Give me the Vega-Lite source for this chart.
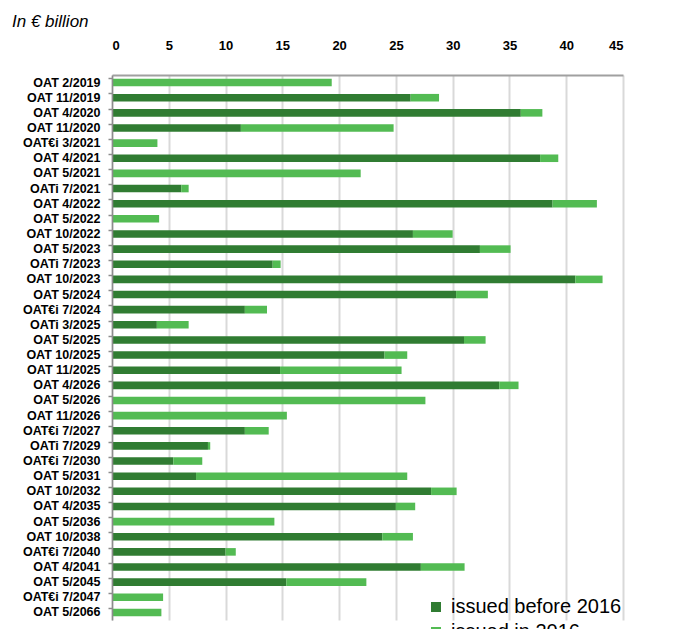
{
  "$schema": "https://vega.github.io/schema/vega-lite/v6.json",
  "autosize": "none",
  "width": 511,
  "height": 545,
  "padding": {"left": 112, "top": 75, "right": 54, "bottom": 9},
  "background": "white",
  "title": {
    "text": "In € billion",
    "anchor": "start",
    "frame": "group",
    "font": "Liberation Sans",
    "fontSize": 17,
    "fontStyle": "italic",
    "fontWeight": "normal",
    "color": "#000000",
    "dx": -100,
    "offset": 8
  },
  "data": {
    "values": [
      {"bond": "OAT 2/2019", "issued before 2016": 0, "issued in 2016": 19.35},
      {"bond": "OAT 11/2019", "issued before 2016": 26.3, "issued in 2016": 2.5},
      {"bond": "OAT 4/2020", "issued before 2016": 36.0, "issued in 2016": 1.9},
      {"bond": "OAT 11/2020", "issued before 2016": 11.35, "issued in 2016": 13.45},
      {"bond": "OAT€i 3/2021", "issued before 2016": 0, "issued in 2016": 4.0},
      {"bond": "OAT 4/2021", "issued before 2016": 37.7, "issued in 2016": 1.6},
      {"bond": "OAT 5/2021", "issued before 2016": 0, "issued in 2016": 21.9},
      {"bond": "OATi 7/2021", "issued before 2016": 6.1, "issued in 2016": 0.65},
      {"bond": "OAT 4/2022", "issued before 2016": 38.8, "issued in 2016": 3.9},
      {"bond": "OAT 5/2022", "issued before 2016": 0, "issued in 2016": 4.15},
      {"bond": "OAT 10/2022", "issued before 2016": 26.5, "issued in 2016": 3.5},
      {"bond": "OAT 5/2023", "issued before 2016": 32.4, "issued in 2016": 2.7},
      {"bond": "OATi 7/2023", "issued before 2016": 14.15, "issued in 2016": 0.7},
      {"bond": "OAT 10/2023", "issued before 2016": 40.8, "issued in 2016": 2.4},
      {"bond": "OAT 5/2024", "issued before 2016": 30.3, "issued in 2016": 2.8},
      {"bond": "OAT€i 7/2024", "issued before 2016": 11.7, "issued in 2016": 1.95},
      {"bond": "OATi 3/2025", "issued before 2016": 3.95, "issued in 2016": 2.8},
      {"bond": "OAT 5/2025", "issued before 2016": 31.0, "issued in 2016": 1.9},
      {"bond": "OAT 10/2025", "issued before 2016": 24.0, "issued in 2016": 2.0},
      {"bond": "OAT 11/2025", "issued before 2016": 14.8, "issued in 2016": 10.7},
      {"bond": "OAT 4/2026", "issued before 2016": 34.1, "issued in 2016": 1.7},
      {"bond": "OAT 5/2026", "issued before 2016": 0, "issued in 2016": 27.6},
      {"bond": "OAT 11/2026", "issued before 2016": 0, "issued in 2016": 15.4},
      {"bond": "OAT€i 7/2027", "issued before 2016": 11.7, "issued in 2016": 2.1},
      {"bond": "OATi 7/2029", "issued before 2016": 8.45, "issued in 2016": 0.2},
      {"bond": "OAT€i 7/2030", "issued before 2016": 5.4, "issued in 2016": 2.55},
      {"bond": "OAT 5/2031", "issued before 2016": 7.4, "issued in 2016": 18.6},
      {"bond": "OAT 10/2032", "issued before 2016": 28.1, "issued in 2016": 2.25},
      {"bond": "OAT 4/2035", "issued before 2016": 25.0, "issued in 2016": 1.7},
      {"bond": "OAT 5/2036", "issued before 2016": 0, "issued in 2016": 14.3},
      {"bond": "OAT 10/2038", "issued before 2016": 23.8, "issued in 2016": 2.7},
      {"bond": "OAT€i 7/2040", "issued before 2016": 10.0, "issued in 2016": 0.9},
      {"bond": "OAT 4/2041", "issued before 2016": 27.2, "issued in 2016": 3.85},
      {"bond": "OAT 5/2045", "issued before 2016": 15.35, "issued in 2016": 7.05},
      {"bond": "OAT€i 7/2047", "issued before 2016": 0, "issued in 2016": 4.5},
      {"bond": "OAT 5/2066", "issued before 2016": 0, "issued in 2016": 4.35}
    ]
  },
  "transform": [
    {"fold": ["issued before 2016", "issued in 2016"], "as": ["series", "amount"]}
  ],
  "mark": {"type": "bar", "stroke": null},
  "encoding": {
    "y": {
      "field": "bond",
      "type": "nominal",
      "sort": null,
      "scale": {"paddingInner": 0.5, "paddingOuter": 0.25},
      "axis": {
        "title": null,
        "domain": true,
        "ticks": true,
        "bandPosition": 0,
        "labelFont": "Liberation Sans",
        "labelFontSize": 12.5,
        "labelFontWeight": "bold",
        "labelColor": "#000000",
        "labelPadding": 8,
        "tickSize": 4,
        "tickColor": "#8c8c8c",
        "tickWidth": 1.5,
        "domainColor": "#8c8c8c",
        "domainWidth": 1.5,
        "grid": false,
        "zindex": 1
      }
    },
    "x": {
      "field": "amount",
      "type": "quantitative",
      "stack": "zero",
      "scale": {"domain": [0, 45], "nice": false},
      "axis": {
        "orient": "top",
        "title": null,
        "values": [0, 5, 10, 15, 20, 25, 30, 35, 40, 45],
        "ticks": false,
        "tickSize": 0,
        "labelFont": "Liberation Sans",
        "labelFontSize": 13,
        "labelFontWeight": "bold",
        "labelColor": "#000000",
        "labelPadding": 23,
        "domainColor": "#a0a0a0",
        "domainWidth": 2,
        "grid": true,
        "gridColor": "#d9d9d9",
        "gridWidth": 2
      }
    },
    "color": {
      "field": "series",
      "type": "nominal",
      "scale": {
        "domain": ["issued before 2016", "issued in 2016"],
        "range": ["#307c32", "#53bb53"]
      },
      "legend": {
        "title": null,
        "orient": "none",
        "legendX": 314,
        "legendY": 522,
        "padding": 0,
        "symbolType": "square",
        "symbolSize": 100,
        "symbolStrokeWidth": 0,
        "labelFont": "Liberation Sans",
        "labelFontSize": 20,
        "labelLimit": 400,
        "labelColor": "#000000",
        "labelOffset": 5,
        "rowPadding": 5
      }
    },
    "order": {"field": "series", "sort": "ascending"}
  },
  "config": {
    "view": {"stroke": null}
  }
}
